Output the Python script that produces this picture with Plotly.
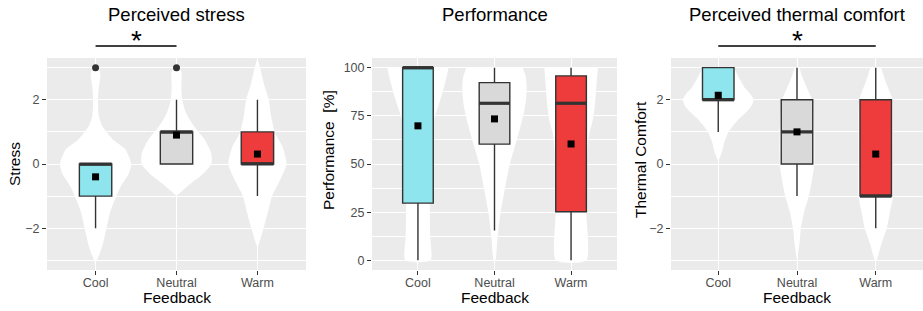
import plotly.graph_objects as go

# ---------------- data ----------------
categories = ["Cool", "Neutral", "Warm"]
cat_pos = [1, 2, 3]
box_colors = ["#8EE5EE", "#D9D9D9", "#EE3B3B"]

# Perceived stress
stress_q1 = [-1, 0, 0]
stress_med = [0, 1, 0]
stress_q3 = [0, 1, 1]
stress_lo = [-2, 0, -1]
stress_hi = [0, 2, 2]
stress_mean = [-0.4, 0.9, 0.31]
stress_out_cat = [1, 2]
stress_out_val = [3, 3]

# Performance
perf_q1 = [29.7, 60.3, 25.2]
perf_med = [100, 81.5, 81.5]
perf_q3 = [100, 92.2, 95.7]
perf_lo = [0, 15.5, 0]
perf_hi = [100, 100, 100]
perf_mean = [69.8, 73.4, 60.4]

# Perceived thermal comfort
tc_q1 = [2, 0, -1]
tc_med = [2, 1, -1]
tc_q3 = [3, 2, 2]
tc_lo = [1, -1, -2]
tc_hi = [3, 3, 3]
tc_mean = [2.14, 1.0, 0.31]

# violin profiles (value levels, half-widths in category units)
sc_vy = [3.1, 3.0, 2.75, 2.4, 2.0, 1.5, 1.2, 0.95, 0.75, 0.45, 0.0, -0.3, -0.7, -1.1, -1.5, -2.05, -2.5, -2.8, -3.1]
sc_vw = [0.0, 0.04, 0.06, 0.04, 0.03, 0.04, 0.08, 0.15, 0.22, 0.37, 0.44, 0.41, 0.31, 0.24, 0.18, 0.13, 0.09, 0.05, 0.0]
sn_vy = [3.05, 2.87, 2.4, 2.0, 1.58, 1.16, 0.75, 0.33, 0.0, -0.3, -0.6, -0.86, -1.0]
sn_vw = [0.0, 0.06, 0.06, 0.07, 0.12, 0.22, 0.35, 0.43, 0.43, 0.33, 0.18, 0.06, 0.0]
sw_vy = [3.28, 3.03, 2.5, 2.0, 1.47, 0.95, 0.54, 0.0, -0.5, -1.0, -1.5, -2.05, -2.47, -2.6]
sw_vw = [0.0, 0.03, 0.08, 0.14, 0.17, 0.22, 0.31, 0.36, 0.28, 0.18, 0.13, 0.07, 0.02, 0.0]

pc_vy = [100, 92, 83, 75, 66, 50, 37.5, 25, 12.5, 0]
pc_vw = [0.40, 0.355, 0.29, 0.225, 0.18, 0.16, 0.155, 0.155, 0.16, 0.165]
pn_vy = [100, 95, 88, 80, 71, 61, 50, 38, 25, 12, 0]
pn_vw = [0.37, 0.41, 0.42, 0.40, 0.35, 0.28, 0.20, 0.14, 0.08, 0.04, 0.01]
pw_vy = [100, 90, 80, 72, 66, 60, 50, 25, 0]
pw_vw = [0.35, 0.33, 0.31, 0.28, 0.24, 0.22, 0.21, 0.20, 0.20]

tcc_vy = [3.0, 2.7, 2.4, 2.2, 2.0, 1.8, 1.6, 1.4, 1.2, 1.0, 0.7, 0.4, 0.2, 0.1]
tcc_vw = [0.20, 0.26, 0.33, 0.40, 0.45, 0.42, 0.35, 0.26, 0.19, 0.13, 0.08, 0.05, 0.02, 0.0]
tcn_vy = [3.0, 2.7, 2.4, 2.0, 1.0, 0.0, -0.5, -1.0, -1.5, -2.0, -2.5, -3.0]
tcn_vw = [0.03, 0.07, 0.12, 0.19, 0.22, 0.22, 0.19, 0.15, 0.09, 0.05, 0.03, 0.0]
tcw_vy = [3.0, 2.6, 2.0, 1.0, 0.0, -1.0, -1.5, -2.0, -2.5, -3.0]
tcw_vw = [0.07, 0.12, 0.21, 0.22, 0.22, 0.22, 0.18, 0.14, 0.07, 0.01]

titles = ["Perceived stress", "Performance", "Perceived thermal comfort"]
ytitles = ["Stress", "Performance\u00a0 [%]", "Thermal Comfort"]
xtitle = "Feedback"

# ---------------- figure ----------------
W, H = 923, 311
FONT = "Liberation Sans, Arial, sans-serif"
BOX_W = 0.4
LINE_C = "#333333"

fig = go.Figure()

panels = [
    dict(ax="", ov="4", q1=stress_q1, med=stress_med, q3=stress_q3, lo=stress_lo, hi=stress_hi, mean=stress_mean,
         viol=[(sc_vy, sc_vw), (sn_vy, sn_vw), (sw_vy, sw_vw)]),
    dict(ax="2", ov="5", q1=perf_q1, med=perf_med, q3=perf_q3, lo=perf_lo, hi=perf_hi, mean=perf_mean,
         viol=[(pc_vy, pc_vw), (pn_vy, pn_vw), (pw_vy, pw_vw)]),
    dict(ax="3", ov="6", q1=tc_q1, med=tc_med, q3=tc_q3, lo=tc_lo, hi=tc_hi, mean=tc_mean,
         viol=[(tcc_vy, tcc_vw), (tcn_vy, tcn_vw), (tcw_vy, tcw_vw)]),
]

for p in panels:
    xa, ya = "x" + p["ax"], "y" + p["ax"]
    xo, yo = "x" + p["ov"], "y" + p["ov"]
    # violins (base subplot, drawn underneath)
    for c, (vy, vw) in zip(cat_pos, p["viol"]):
        xs = [c + w for w in vw] + [c - w for w in reversed(vw)]
        ys = list(vy) + list(reversed(vy))
        fig.add_trace(go.Scatter(x=xs, y=ys, xaxis=xa, yaxis=ya, mode="lines", fill="toself",
                                 fillcolor="white",
                                 line=dict(color="white", width=0, shape="spline", smoothing=0.6),
                                 hoverinfo="skip", showlegend=False))
    # boxes (overlay subplot, drawn on top)
    for i, c in enumerate(cat_pos):
        fig.add_trace(go.Box(x=[c], q1=[p["q1"][i]], median=[p["med"][i]], q3=[p["q3"][i]],
                             lowerfence=[p["lo"][i]], upperfence=[p["hi"][i]],
                             xaxis=xo, yaxis=yo, width=BOX_W, whiskerwidth=0,
                             fillcolor=box_colors[i], line=dict(color=LINE_C, width=1.4),
                             boxpoints=False, showlegend=False, name=categories[i]))
    for i, c in enumerate(cat_pos):
        # thick median (ggplot fatten)
        fig.add_trace(go.Scatter(x=[c - BOX_W / 2, c + BOX_W / 2], y=[p["med"][i]] * 2, xaxis=xo, yaxis=yo,
                                 mode="lines", line=dict(color=LINE_C, width=3.2), showlegend=False,
                                 hoverinfo="skip"))
    # means
    fig.add_trace(go.Scatter(x=cat_pos, y=p["mean"], xaxis=xo, yaxis=yo, mode="markers",
                             marker=dict(symbol="square", size=7, color="black"), showlegend=False))

# outliers (stress)
fig.add_trace(go.Scatter(x=stress_out_cat, y=stress_out_val, xaxis="x4", yaxis="y4", mode="markers",
                         marker=dict(symbol="circle", size=7, color=LINE_C), cliponaxis=False, showlegend=False))

# axes
x_domains = [[47 / W, 306 / W], [372 / W, 617 / W], [671 / W, 1.0]]
y_domain = [1 - 270 / H, 1 - 58 / H]
x_range = [0.4, 3.6]
y_ranges = [[-3.3, 3.3], [-5, 105], [-3.3, 3.3]]
y_dticks = [2, 25, 2]
y_minor = [1, 12.5, 1]

tickfont = dict(family=FONT, size=12.5, color="#4D4D4D")
for k, p in enumerate(panels):
    sfx, ov = p["ax"], p["ov"]
    fig.update_layout(**{
        "xaxis" + sfx: dict(domain=x_domains[k], range=x_range, tickvals=cat_pos, ticktext=categories,
                            anchor="y" + sfx, showgrid=True, gridcolor="white", gridwidth=1.1,
                            zeroline=False, showline=False, ticks="outside", ticklen=4, tickwidth=1,
                            tickcolor=LINE_C, tickfont=tickfont, ticklabelstandoff=-3, fixedrange=True),
        "yaxis" + sfx: dict(domain=y_domain, range=y_ranges[k], dtick=y_dticks[k], tick0=0,
                            anchor="x" + sfx, showgrid=True, gridcolor="white", gridwidth=1.1,
                            zeroline=False, showline=False, ticks="outside", ticklen=4, tickwidth=1,
                            tickcolor=LINE_C, tickfont=tickfont,
                            minor=dict(dtick=y_minor[k], tick0=0, showgrid=True, gridcolor="white",
                                       gridwidth=0.6, ticks=""),
                            fixedrange=True),
        "xaxis" + ov: dict(overlaying="x" + sfx, anchor="y" + ov, range=x_range, visible=False,
                           fixedrange=True),
        "yaxis" + ov: dict(overlaying="y" + sfx, anchor="x" + ov, range=y_ranges[k], visible=False,
                           fixedrange=True),
    })

annotations = []
ytitle_x_px = [15, 328, 640]
ytitle_y_px = [164, 150, 160]
for k, p in enumerate(panels):
    sfx = p["ax"]
    annotations.append(dict(text=titles[k], xref="x" + sfx + " domain", x=0.5, yref="paper", y=1 - 15 / H,
                            xanchor="center", yanchor="middle", showarrow=False,
                            font=dict(family=FONT, size=18.5, color="black")))
    annotations.append(dict(text=xtitle, xref="x" + sfx + " domain", x=0.5, yref="paper", y=1 - 297.5 / H,
                            xanchor="center", yanchor="middle", showarrow=False, borderpad=0,
                            font=dict(family=FONT, size=15.5, color="black")))
    annotations.append(dict(text=ytitles[k], xref="paper", x=ytitle_x_px[k] / W, yref="paper",
                            y=1 - ytitle_y_px[k] / H, textangle=-90,
                            xanchor="center", yanchor="middle", showarrow=False,
                            font=dict(family=FONT, size=15.5, color="black")))

# significance brackets
sig = [("x", "y", 1, 2), ("x3", "y3", 1, 3)]
shapes = []
for xa, ya, a, b in sig:
    shapes.append(dict(type="line", xref=xa, yref=ya + " domain", x0=a, x1=b, y0=1 + 12 / 212, y1=1 + 12 / 212,
                       line=dict(color="black", width=1.4)))
    annotations.append(dict(text="*", xref=xa, x=(a + b) / 2, yref=ya + " domain", y=1.0,
                            xanchor="center", yanchor="bottom", showarrow=False,
                            font=dict(family=FONT, size=28, color="black")))

fig.update_layout(width=W, height=H, margin=dict(l=0, r=0, t=0, b=0), paper_bgcolor="white",
                  plot_bgcolor="#EBEBEB", showlegend=False, boxmode="overlay",
                  annotations=annotations, shapes=shapes)

fig.write_html("out.html", config={"displayModeBar": False},
               post_script="document.body.style.margin='0';document.body.style.padding='0';"
                           "document.body.style.overflow='hidden';")
